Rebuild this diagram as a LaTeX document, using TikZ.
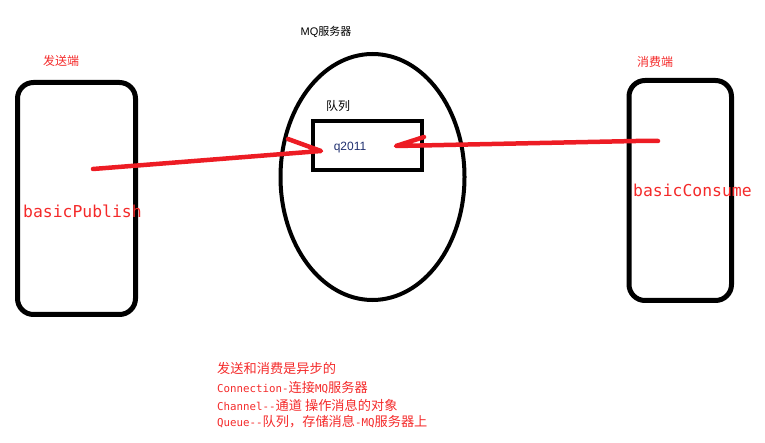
\documentclass[tikz,border=0pt]{standalone}
\usepackage{fontspec}
\usetikzlibrary{shapes.geometric}
\setmainfont{Liberation Sans}
\newfontfamily\cjkf{Noto Sans CJK SC}
\newfontfamily\dmono{DejaVu Sans Mono}
\definecolor{pred}{HTML}{ED1C24}
\definecolor{tred}{HTML}{F42A2A}
\definecolor{qblue}{HTML}{1F2F6F}
\newcommand\cc[1]{{\cjkf\fontsize{13.2}{14}\selectfont #1}}
\newcommand\mm[1]{{\dmono\fontsize{10.8}{14}\selectfont #1}}
\begin{document}
\begin{tikzpicture}[x=1pt,y=-1pt,
  box/.style={draw=black,line width=5pt,rounded corners=16pt},
  redline/.style={draw=pred,line width=4.5pt,line cap=round,line join=round},
  lbl/.style={inner sep=0pt,anchor=center},
  note/.style={inner sep=0pt,anchor=west,text=tred}]
\useasboundingbox (0,0) rectangle (765,443);
% boxes
\draw[box] (17.5,82.5) rectangle (135.5,314.5);
\draw[box] (629,80.5) rectangle (731.5,300.5);
\node[draw=black,line width=4pt,ellipse,minimum width=184pt,minimum height=246pt,inner sep=0pt] (server) at (372.5,177) {};
\node[draw=black,line width=4pt,minimum width=109pt,minimum height=49pt,inner sep=0pt] (queue) at (367.5,145.5) {};
% labels
\node[lbl] (srvlbl) at (326,32) {\fontsize{11}{12}\selectfont MQ\cjkf 服务器};
\node[lbl,text=tred] (sendlbl) at (61,61) {\cjkf\fontsize{12}{13}\selectfont 发送端};
\node[lbl,text=tred] (conslbl) at (655,62) {\cjkf\fontsize{12}{13}\selectfont 消费端};
\node[lbl] (qlbl) at (338,106) {\cjkf\fontsize{12}{13}\selectfont 队列};
\node[lbl,text=qblue] (qname) at (350,148) {\fontsize{12}{13}\selectfont q2011};
\node[inner sep=0pt,anchor=base west,text=tred] (pub) at (23,218) {\dmono\fontsize{16.4}{18}\selectfont basicPublish};
\node[inner sep=0pt,anchor=base west,text=tred] (con) at (633,197) {\dmono\fontsize{16.4}{18}\selectfont basicConsume};
% arrows
\coordinate (p1) at (93,169);
\coordinate (ptip) at (321,151);
\coordinate (pbarb) at (288,139);
\draw[redline] (p1) -- (ptip) -- (pbarb);
\coordinate (c1) at (658,141);
\coordinate (ctip) at (396,146);
\coordinate (cbarb) at (424,137);
\draw[redline] (c1) -- (636,141) -- (ctip) -- (cbarb);
% notes
\node[note] (n1) at (217,368) {\cc{发送和消费是异步的}};
\node[note] (n2) at (217,388) {\mm{Connection-}\cc{连接}\mm{MQ}\cc{服务器}};
\node[note] (n3) at (217,405) {\mm{Channel--}\cc{通道 操作消息的对象}};
\node[note] (n4) at (217,422) {\mm{Queue--}\cc{队列，存储消息}\mm{-MQ}\cc{服务器上}};
\end{tikzpicture}
\end{document}
